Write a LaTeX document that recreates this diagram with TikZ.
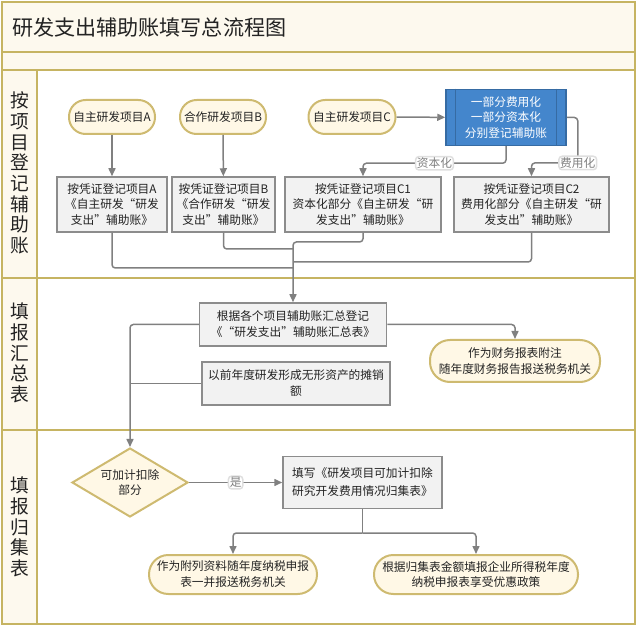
\documentclass[tikz,border=0pt]{standalone}
\usepackage{fontspec}
\setmainfont{Noto Sans CJK SC}
\usetikzlibrary{arrows.meta,positioning,shapes.geometric,calc}
\definecolor{laneline}{RGB}{198,180,98}
\definecolor{lanefill}{RGB}{253,249,238}
\definecolor{startfill}{RGB}{255,248,230}
\definecolor{startline}{RGB}{206,186,112}
\definecolor{boxfill}{RGB}{242,242,242}
\definecolor{boxline}{RGB}{140,140,140}
\definecolor{splitblue}{RGB}{68,134,204}
\definecolor{linkgray}{RGB}{128,128,128}
\definecolor{textdark}{RGB}{35,35,35}

\begin{document}
\begin{tikzpicture}[x=0.3mm,y=-0.3mm,
  font=\fontsize{10pt}{13.6pt}\selectfont,text=textdark,
  terminal/.style={rectangle,rounded corners=5mm,draw=startline,line width=0.6mm,
                   fill=startfill,minimum height=10.2mm,align=center,inner sep=0.5mm},
  record/.style={rectangle,draw=boxline,line width=0.45mm,fill=boxfill,
                 minimum height=16.5mm,align=center,inner sep=0.5mm},
  splitbox/.style={rectangle,draw=splitblue!80!black,line width=0.45mm,fill=splitblue,
                   text=white,minimum width=36mm,minimum height=16.8mm,align=center},
  decision/.style={diamond,draw=startline,line width=0.6mm,fill=startfill,shape aspect=1.7,
                   minimum width=34.8mm,minimum height=20.7mm,align=center,inner sep=0.5mm},
  lanelabel/.style={align=center,font=\fontsize{16pt}{17.6pt}\selectfont},
  line/.style={draw=linkgray,line width=0.45mm,rounded corners=1mm},
  arrow/.style={line,-{Triangle[length=2.4mm,width=2.1mm]}},
  tag/.style={fill=white,draw=gray!25,text=gray,inner sep=0.4mm}
]
\useasboundingbox (0,0) rectangle (638,628);

% swimlane frame
\fill[lanefill] (2,2) rectangle (635,70);
\fill[lanefill] (2,70) rectangle (37,624);
\begin{scope}[draw=laneline,line width=0.6mm]
  \draw (2,2) rectangle (635,624);
  \foreach \y in {52,70,278,430} \draw (2,\y) -- (635,\y);
  \draw (37,70) -- (37,624);
\end{scope}
\node[anchor=west,font=\fontsize{18pt}{20pt}\selectfont] (title) at (8,28) {研发支出辅助账填写总流程图};
\node[lanelabel] (lane1) at (19.5,173) {按\\项\\目\\登\\记\\辅\\助\\账};
\node[lanelabel] (lane2) at (19.5,353) {填\\报\\汇\\总\\表};
\node[lanelabel] (lane3) at (19.5,527) {填\\报\\归\\集\\表};

% lane 1
\node[terminal,minimum width=25.8mm] (projA) at (112,117) {自主研发项目A};
\node[terminal,minimum width=25.8mm] (projB) at (223,117) {合作研发项目B};
\node[terminal,minimum width=26.1mm] (projC) at (352,117) {自主研发项目C};
\node[splitbox] (split) at (506,117.5) {一部分费用化\\一部分资本化\\分别登记辅助账};
\node[record,minimum width=33mm] (recA) at (112,204.5) {按凭证登记项目A\\《自主研发“研发\\支出”辅助账》};
\node[record,minimum width=30.9mm] (recB) at (223.5,204.5) {按凭证登记项目B\\《合作研发“研发\\支出”辅助账》};
\node[record,minimum width=46.8mm] (recC1) at (363,204.5) {按凭证登记项目C1\\资本化部分《自主研发“研\\发支出”辅助账》};
\node[record,minimum width=46.5mm] (recC2) at (531.5,204.5) {按凭证登记项目C2\\费用化部分《自主研发“研\\发支出”辅助账》};
\draw[splitblue!80!black,line width=0.3mm] ($(split.north east)+(-10,0)$) -- ($(split.south east)+(-10,0)$);
\draw[splitblue!80!black,line width=0.3mm] ($(split.north west)+(10,0)$) -- ($(split.south west)+(10,0)$);

\draw[arrow] (projA) -- (recA);
\draw[arrow] (projB) -- (recB);
\draw[arrow] (projC) -- (split);
\draw[arrow] (split.south) -- ++(0,17) -| node[tag,pos=0.25] {资本化} (recC1.north);
\draw[arrow] (split.east) -- ++(11,0) -- ++(0,45.5) node[tag] {费用化} -| (recC2.north);

% lane 2
\node[record,minimum width=56.1mm,minimum height=12.9mm] (total) at (293,324.5) {根据各个项目辅助账汇总登记\\《“研发支出”辅助账汇总表》};
\node[terminal,rounded corners=6mm,minimum width=51mm,minimum height=12.6mm] (note) at (515,361) {作为财务报表附注\\随年度财务报告报送税务机关};
\node[record,minimum width=56.4mm,minimum height=12.9mm] (amort) at (296,383.5) {以前年度研发形成无形资产的摊销\\额};

\coordinate (joinA) at (293,268);
\coordinate (joinB) at (293,249);
\coordinate (joinC1) at (293,242);
\coordinate (joinC2) at (293,262);
\draw[line] (recA.south) |- (joinA);
\draw[line] (recB.south) |- (joinB);
\draw[line] (recC2.south) |- (joinC2);
\draw[arrow] (recC1.south) |- (joinC1) -- (total.north);
\draw[arrow] (total.east) -| (note.north);

% lane 3
\node[decision] (deduct) at (130,482.5) {可加计扣除\\部分};
\node[record,minimum width=47.7mm,minimum height=15.6mm,
      font=\fontsize{10pt}{15.3pt}\selectfont] (collect) at (362.5,482.5) {填写《研发项目可加计扣除\\研究开发费用情况归集表》};
\node[terminal,rounded corners=5.8mm,minimum width=50.4mm,minimum height=11.7mm] (attach) at (233,574.5) {作为附列资料随年度纳税申报\\表一并报送税务机关};
\node[terminal,rounded corners=5.8mm,minimum width=61.2mm,minimum height=11.7mm] (claim) at (476,574.5) {根据归集表金额填报企业所得税年度\\纳税申报表享受优惠政策};

\draw[arrow] (total.west) -| (deduct.north);
\draw[line] (amort.west) -- (amort.west -| deduct.north);
\draw[arrow] (deduct.east) -- node[tag] {是} (collect.west);
\coordinate (fork) at (362.5,533);
\draw[line] (collect.south) -- (fork);
\draw[arrow] (fork) -| (attach.north);
\draw[arrow] (fork) -| (claim.north);
\end{tikzpicture}
\end{document}
